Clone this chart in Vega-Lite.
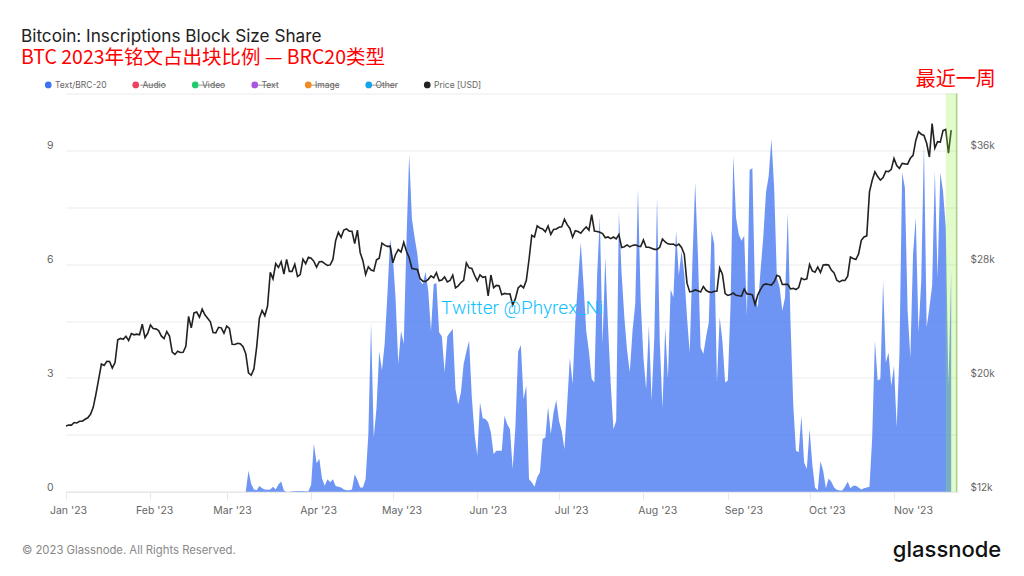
{
  "$schema": "https://vega.github.io/schema/vega-lite/v6.json",
  "autosize": "none",
  "background": "white",
  "padding": {"left": 66, "top": 93.5, "right": 66, "bottom": 84.3},
  "width": 892,
  "height": 398.2,
  "title": {
    "text": "Bitcoin: Inscriptions Block Size Share",
    "subtitle": "BTC 2023年铭文占出块比例 — BRC20类型",
    "anchor": "start",
    "frame": "group",
    "dx": -45,
    "offset": 3,
    "font": "Inter",
    "fontSize": 17.2,
    "fontWeight": "normal",
    "color": "#222222",
    "subtitleFont": "Noto Sans CJK SC",
    "subtitleFontSize": 19.5,
    "subtitleColor": "#ff0000",
    "subtitlePadding": 4
  },
  "config": {
    "view": {"stroke": null},
    "axis": {"labelFont": "Inter", "labelFontSize": 10.5, "labelColor": "#666666", "title": null}
  },
  "data": {"values": [
    {"date":"2023-01-01","price":16625,"share":0},{"date":"2023-01-02","price":16688,"share":0},{"date":"2023-01-03","price":16680,"share":0},{"date":"2023-01-04","price":16863,"share":0},{"date":"2023-01-05","price":16836,"share":0},{"date":"2023-01-06","price":16951,"share":0},{"date":"2023-01-07","price":16955,"share":0},{"date":"2023-01-08","price":17091,"share":0},{"date":"2023-01-09","price":17196,"share":0},{"date":"2023-01-10","price":17446,"share":0},{"date":"2023-01-11","price":17934,"share":0},{"date":"2023-01-12","price":18869,"share":0},{"date":"2023-01-13","price":19909,"share":0},{"date":"2023-01-14","price":20976,"share":0},{"date":"2023-01-15","price":20880,"share":0},{"date":"2023-01-16","price":21169,"share":0},{"date":"2023-01-17","price":21161,"share":0},{"date":"2023-01-18","price":20688,"share":0},{"date":"2023-01-19","price":21086,"share":0},{"date":"2023-01-20","price":22676,"share":0},{"date":"2023-01-21","price":22777,"share":0},{"date":"2023-01-22","price":22720,"share":0},{"date":"2023-01-23","price":22934,"share":0},{"date":"2023-01-24","price":22636,"share":0},{"date":"2023-01-25","price":23117,"share":0},{"date":"2023-01-26","price":23032,"share":0},{"date":"2023-01-27","price":23078,"share":0},{"date":"2023-01-28","price":23031,"share":0},{"date":"2023-01-29","price":23774,"share":0},{"date":"2023-01-30","price":22840,"share":0},{"date":"2023-01-31","price":23139,"share":0},
    {"date":"2023-02-01","price":23723,"share":0},{"date":"2023-02-02","price":23471,"share":0},{"date":"2023-02-03","price":23449,"share":0},{"date":"2023-02-04","price":23331,"share":0},{"date":"2023-02-05","price":22955,"share":0},{"date":"2023-02-06","price":22761,"share":0},{"date":"2023-02-07","price":23264,"share":0},{"date":"2023-02-08","price":22939,"share":0},{"date":"2023-02-09","price":21819,"share":0},{"date":"2023-02-10","price":21651,"share":0},{"date":"2023-02-11","price":21870,"share":0},{"date":"2023-02-12","price":21788,"share":0},{"date":"2023-02-13","price":21808,"share":0},{"date":"2023-02-14","price":22220,"share":0},{"date":"2023-02-15","price":24327,"share":0},{"date":"2023-02-16","price":23517,"share":0},{"date":"2023-02-17","price":24569,"share":0},{"date":"2023-02-18","price":24631,"share":0},{"date":"2023-02-19","price":24271,"share":0},{"date":"2023-02-20","price":24838,"share":0},{"date":"2023-02-21","price":24439,"share":0},{"date":"2023-02-22","price":24189,"share":0},{"date":"2023-02-23","price":23947,"share":0},{"date":"2023-02-24","price":23198,"share":0},{"date":"2023-02-25","price":23175,"share":0},{"date":"2023-02-26","price":23561,"share":0},{"date":"2023-02-27","price":23522,"share":0},{"date":"2023-02-28","price":23147,"share":0},
    {"date":"2023-03-01","price":23647,"share":0},{"date":"2023-03-02","price":23475,"share":0},{"date":"2023-03-03","price":22362,"share":0},{"date":"2023-03-04","price":22354,"share":0},{"date":"2023-03-05","price":22430,"share":0},{"date":"2023-03-06","price":22410,"share":0},{"date":"2023-03-07","price":22197,"share":0},{"date":"2023-03-08","price":21705,"share":0},{"date":"2023-03-09","price":20363,"share":0.55},{"date":"2023-03-10","price":20187,"share":0.2},{"date":"2023-03-11","price":20632,"share":0.06},{"date":"2023-03-12","price":22163,"share":0.04},{"date":"2023-03-13","price":24197,"share":0.15},{"date":"2023-03-14","price":24746,"share":0.09},{"date":"2023-03-15","price":24375,"share":0.06},{"date":"2023-03-16","price":25052,"share":0.05},{"date":"2023-03-17","price":27423,"share":0.06},{"date":"2023-03-18","price":26965,"share":0.13},{"date":"2023-03-19","price":28038,"share":0.06},{"date":"2023-03-20","price":27767,"share":0.19},{"date":"2023-03-21","price":28175,"share":0.27},{"date":"2023-03-22","price":27307,"share":0.03},{"date":"2023-03-23","price":28333,"share":0},{"date":"2023-03-24","price":27493,"share":0},{"date":"2023-03-25","price":27494,"share":0.01},{"date":"2023-03-26","price":27994,"share":0.01},{"date":"2023-03-27","price":27139,"share":0.02},{"date":"2023-03-28","price":27268,"share":0.02},{"date":"2023-03-29","price":28348,"share":0.02},{"date":"2023-03-30","price":28033,"share":0.01},{"date":"2023-03-31","price":28478,"share":0.01},
    {"date":"2023-04-01","price":28411,"share":0.18},{"date":"2023-04-02","price":28199,"share":1.27},{"date":"2023-04-03","price":27790,"share":0.75},{"date":"2023-04-04","price":28170,"share":0.87},{"date":"2023-04-05","price":28175,"share":0.35},{"date":"2023-04-06","price":28033,"share":0.16},{"date":"2023-04-07","price":27906,"share":0.33},{"date":"2023-04-08","price":27947,"share":0.25},{"date":"2023-04-09","price":28333,"share":0.33},{"date":"2023-04-10","price":29652,"share":0.15},{"date":"2023-04-11","price":30235,"share":0.13},{"date":"2023-04-12","price":29884,"share":0.11},{"date":"2023-04-13","price":30399,"share":0.06},{"date":"2023-04-14","price":30485,"share":0.04},{"date":"2023-04-15","price":30318,"share":0.04},{"date":"2023-04-16","price":30315,"share":0.06},{"date":"2023-04-17","price":29445,"share":0.46},{"date":"2023-04-18","price":30397,"share":0.31},{"date":"2023-04-19","price":28823,"share":0.11},{"date":"2023-04-20","price":28245,"share":0.11},{"date":"2023-04-21","price":27276,"share":0.33},{"date":"2023-04-22","price":27817,"share":1.5},{"date":"2023-04-23","price":27591,"share":4.44},{"date":"2023-04-24","price":27525,"share":1.43},{"date":"2023-04-25","price":28307,"share":2.2},{"date":"2023-04-26","price":28422,"share":3.7},{"date":"2023-04-27","price":29473,"share":3.2},{"date":"2023-04-28","price":29340,"share":3.9},{"date":"2023-04-29","price":29248,"share":5.2},{"date":"2023-04-30","price":29268,"share":6.66},
    {"date":"2023-05-01","price":28091,"share":6.2},{"date":"2023-05-02","price":28680,"share":5.1},{"date":"2023-05-03","price":29027,"share":3.37},{"date":"2023-05-04","price":28848,"share":4.24},{"date":"2023-05-05","price":29534,"share":3.9},{"date":"2023-05-06","price":28905,"share":6.6},{"date":"2023-05-07","price":28454,"share":8.9},{"date":"2023-05-08","price":27694,"share":7.2},{"date":"2023-05-09","price":27658,"share":6.7},{"date":"2023-05-10","price":27621,"share":6.27},{"date":"2023-05-11","price":26987,"share":5.56},{"date":"2023-05-12","price":26807,"share":5.47},{"date":"2023-05-13","price":26788,"share":5.8},{"date":"2023-05-14","price":26931,"share":5.3},{"date":"2023-05-15","price":27172,"share":4.24},{"date":"2023-05-16","price":27036,"share":5.47},{"date":"2023-05-17","price":27398,"share":5.5},{"date":"2023-05-18","price":26832,"share":4.2},{"date":"2023-05-19","price":26890,"share":4.1},{"date":"2023-05-20","price":27102,"share":3.15},{"date":"2023-05-21","price":26747,"share":4.1},{"date":"2023-05-22","price":26851,"share":4.2},{"date":"2023-05-23","price":27225,"share":4.29},{"date":"2023-05-24","price":26334,"share":2.7},{"date":"2023-05-25","price":26473,"share":2.3},{"date":"2023-05-26","price":26705,"share":2.62},{"date":"2023-05-27","price":26868,"share":3.37},{"date":"2023-05-28","price":28085,"share":3.7},{"date":"2023-05-29","price":27745,"share":3.98},{"date":"2023-05-30","price":27702,"share":2.49},{"date":"2023-05-31","price":27219,"share":1.52},
    {"date":"2023-06-01","price":26819,"share":0.95},{"date":"2023-06-02","price":27249,"share":2.35},{"date":"2023-06-03","price":27075,"share":1.94},{"date":"2023-06-04","price":27119,"share":1.92},{"date":"2023-06-05","price":25760,"share":1.83},{"date":"2023-06-06","price":27238,"share":1.56},{"date":"2023-06-07","price":26345,"share":0.99},{"date":"2023-06-08","price":26508,"share":1.08},{"date":"2023-06-09","price":26480,"share":1.08},{"date":"2023-06-10","price":25851,"share":1.08},{"date":"2023-06-11","price":25940,"share":2.0},{"date":"2023-06-12","price":25902,"share":1.78},{"date":"2023-06-13","price":25918,"share":1.65},{"date":"2023-06-14","price":25124,"share":0.6},{"date":"2023-06-15","price":25576,"share":1.7},{"date":"2023-06-16","price":26327,"share":3.7},{"date":"2023-06-17","price":26510,"share":3.87},{"date":"2023-06-18","price":26340,"share":2.44},{"date":"2023-06-19","price":26851,"share":2.8},{"date":"2023-06-20","price":28327,"share":0.33},{"date":"2023-06-21","price":30027,"share":0.25},{"date":"2023-06-22","price":29912,"share":0.13},{"date":"2023-06-23","price":30695,"share":0.38},{"date":"2023-06-24","price":30548,"share":0.51},{"date":"2023-06-25","price":30480,"share":1.39},{"date":"2023-06-26","price":30271,"share":1.43},{"date":"2023-06-27","price":30688,"share":2.24},{"date":"2023-06-28","price":30086,"share":1.52},{"date":"2023-06-29","price":30445,"share":2.09},{"date":"2023-06-30","price":30477,"share":2.42},
    {"date":"2023-07-01","price":30590,"share":1.87},{"date":"2023-07-02","price":30620,"share":1.6},{"date":"2023-07-03","price":31156,"share":1.12},{"date":"2023-07-04","price":30777,"share":2.3},{"date":"2023-07-05","price":30514,"share":3.54},{"date":"2023-07-06","price":29895,"share":2.84},{"date":"2023-07-07","price":30347,"share":4.5},{"date":"2023-07-08","price":30292,"share":5.56},{"date":"2023-07-09","price":30171,"share":6.57},{"date":"2023-07-10","price":30414,"share":5.47},{"date":"2023-07-11","price":30620,"share":4.24},{"date":"2023-07-12","price":30392,"share":3.7},{"date":"2023-07-13","price":31476,"share":2.97},{"date":"2023-07-14","price":30334,"share":2.88},{"date":"2023-07-15","price":30295,"share":5.7},{"date":"2023-07-16","price":30249,"share":7.23},{"date":"2023-07-17","price":30145,"share":3.9},{"date":"2023-07-18","price":29856,"share":6.18},{"date":"2023-07-19","price":29913,"share":4.38},{"date":"2023-07-20","price":29793,"share":2.84},{"date":"2023-07-21","price":29908,"share":1.65},{"date":"2023-07-22","price":29771,"share":1.87},{"date":"2023-07-23","price":30082,"share":7.36},{"date":"2023-07-24","price":29176,"share":5.74},{"date":"2023-07-25","price":29228,"share":4.6},{"date":"2023-07-26","price":29354,"share":3.72},{"date":"2023-07-27","price":29213,"share":3.15},{"date":"2023-07-28","price":29319,"share":4.24},{"date":"2023-07-29","price":29357,"share":4.95},{"date":"2023-07-30","price":29275,"share":7.98},{"date":"2023-07-31","price":29230,"share":5.03},
    {"date":"2023-08-01","price":29705,"share":3.54},{"date":"2023-08-02","price":29186,"share":2.7},{"date":"2023-08-03","price":29193,"share":4.38},{"date":"2023-08-04","price":29113,"share":2.4},{"date":"2023-08-05","price":29042,"share":4.07},{"date":"2023-08-06","price":29041,"share":7.76},{"date":"2023-08-07","price":29183,"share":3.98},{"date":"2023-08-08","price":29766,"share":2.2},{"date":"2023-08-09","price":29561,"share":4.33},{"date":"2023-08-10","price":29429,"share":2.97},{"date":"2023-08-11","price":29397,"share":5.34},{"date":"2023-08-12","price":29415,"share":5.12},{"date":"2023-08-13","price":29283,"share":6.88},{"date":"2023-08-14","price":29408,"share":5.7},{"date":"2023-08-15","price":29170,"share":6.35},{"date":"2023-08-16","price":28701,"share":5.74},{"date":"2023-08-17","price":26664,"share":4.6},{"date":"2023-08-18","price":26049,"share":3.67},{"date":"2023-08-19","price":26096,"share":6.09},{"date":"2023-08-20","price":26189,"share":8.15},{"date":"2023-08-21","price":26124,"share":6.27},{"date":"2023-08-22","price":26040,"share":3.8},{"date":"2023-08-23","price":26431,"share":3.63},{"date":"2023-08-24","price":26163,"share":4.07},{"date":"2023-08-25","price":26049,"share":4.46},{"date":"2023-08-26","price":26008,"share":6.88},{"date":"2023-08-27","price":26089,"share":6.53},{"date":"2023-08-28","price":26106,"share":2.88},{"date":"2023-08-29","price":27727,"share":4.6},{"date":"2023-08-30","price":27297,"share":3.98},{"date":"2023-08-31","price":25931,"share":2.88},
    {"date":"2023-09-01","price":25800,"share":2.93},{"date":"2023-09-02","price":25869,"share":4.95},{"date":"2023-09-03","price":25969,"share":8.86},{"date":"2023-09-04","price":25813,"share":7.23},{"date":"2023-09-05","price":25779,"share":6.79},{"date":"2023-09-06","price":25753,"share":6.62},{"date":"2023-09-07","price":26240,"share":6.75},{"date":"2023-09-08","price":25905,"share":4.64},{"date":"2023-09-09","price":25895,"share":8.48},{"date":"2023-09-10","price":25832,"share":8.53},{"date":"2023-09-11","price":25162,"share":5.12},{"date":"2023-09-12","price":25840,"share":4.86},{"date":"2023-09-13","price":26228,"share":5.83},{"date":"2023-09-14","price":26539,"share":6.7},{"date":"2023-09-15","price":26608,"share":7.89},{"date":"2023-09-16","price":26568,"share":8.33},{"date":"2023-09-17","price":26527,"share":9.3},{"date":"2023-09-18","price":26760,"share":8.02},{"date":"2023-09-19","price":27211,"share":5.65},{"date":"2023-09-20","price":27132,"share":5.39},{"date":"2023-09-21","price":26567,"share":4.77},{"date":"2023-09-22","price":26579,"share":5.12},{"date":"2023-09-23","price":26579,"share":7.36},{"date":"2023-09-24","price":26256,"share":4.5},{"date":"2023-09-25","price":26298,"share":2.31},{"date":"2023-09-26","price":26217,"share":1.08},{"date":"2023-09-27","price":26352,"share":1.04},{"date":"2023-09-28","price":27021,"share":2.0},{"date":"2023-09-29","price":26911,"share":0.77},{"date":"2023-09-30","price":26967,"share":0.6},
    {"date":"2023-10-01","price":27983,"share":1.65},{"date":"2023-10-02","price":27530,"share":0.73},{"date":"2023-10-03","price":27429,"share":0.11},{"date":"2023-10-04","price":27799,"share":0.04},{"date":"2023-10-05","price":27415,"share":0.8},{"date":"2023-10-06","price":27946,"share":0.55},{"date":"2023-10-07","price":27968,"share":0.09},{"date":"2023-10-08","price":27936,"share":0.35},{"date":"2023-10-09","price":27584,"share":0.26},{"date":"2023-10-10","price":27391,"share":0.11},{"date":"2023-10-11","price":26873,"share":0.05},{"date":"2023-10-12","price":26756,"share":0.03},{"date":"2023-10-13","price":26862,"share":0.03},{"date":"2023-10-14","price":26853,"share":0.13},{"date":"2023-10-15","price":27154,"share":0.26},{"date":"2023-10-16","price":28500,"share":0.09},{"date":"2023-10-17","price":28396,"share":0.16},{"date":"2023-10-18","price":28328,"share":0.16},{"date":"2023-10-19","price":28719,"share":0.11},{"date":"2023-10-20","price":29682,"share":0.06},{"date":"2023-10-21","price":29918,"share":0.09},{"date":"2023-10-22","price":29992,"share":0.11},{"date":"2023-10-23","price":33086,"share":0.13},{"date":"2023-10-24","price":33901,"share":1.43},{"date":"2023-10-25","price":34502,"share":3.98},{"date":"2023-10-26","price":34156,"share":2.93},{"date":"2023-10-27","price":33909,"share":2.97},{"date":"2023-10-28","price":34089,"share":5.56},{"date":"2023-10-29","price":34538,"share":3.41},{"date":"2023-10-30","price":34502,"share":3.67},{"date":"2023-10-31","price":34667,"share":2.79},
    {"date":"2023-11-01","price":35437,"share":3.32},{"date":"2023-11-02","price":34938,"share":1.7},{"date":"2023-11-03","price":34732,"share":3.63},{"date":"2023-11-04","price":35082,"share":8.42},{"date":"2023-11-05","price":35049,"share":8.02},{"date":"2023-11-06","price":35037,"share":4.77},{"date":"2023-11-07","price":35443,"share":3.54},{"date":"2023-11-08","price":35655,"share":6.27},{"date":"2023-11-09","price":36693,"share":7.23},{"date":"2023-11-10","price":37313,"share":4.2},{"date":"2023-11-11","price":37138,"share":5.56},{"date":"2023-11-12","price":37054,"share":9.17},{"date":"2023-11-13","price":36502,"share":4.33},{"date":"2023-11-14","price":35537,"share":4.86},{"date":"2023-11-15","price":37880,"share":5.43},{"date":"2023-11-16","price":36163,"share":8.46},{"date":"2023-11-17","price":36613,"share":5.65},{"date":"2023-11-18","price":36585,"share":8.42},{"date":"2023-11-19","price":37386,"share":7.93},{"date":"2023-11-20","price":37477,"share":6.97},{"date":"2023-11-21","price":35813,"share":2.8},{"date":"2023-11-22","price":37420,"share":5.83}
  ]},
  "layer": [
    {
      "mark": {"type": "area", "opacity": 0.75, "interpolate": "linear"},
      "encoding": {
        "x": {
          "field": "date",
          "type": "temporal",
          "scale": {"type": "utc", "domain": ["2023-01-01", "2023-11-24T12:00:00Z"]},
          "axis": {
            "values": ["2023-01-01","2023-02-01","2023-03-01","2023-04-01","2023-05-01","2023-06-01","2023-07-01","2023-08-01","2023-09-01","2023-10-01","2023-11-01"],
            "format": "%b '%y",
            "grid": false,
            "domainColor": "#e4e4e4",
            "tickColor": "#e8e8e8",
            "tickSize": 8,
            "labelPadding": 6,
            "labelFlush": false,
            "labelOffset": {"expr": "2 + 17 * (datum.value - 1672531200000) / 26265600000"}
          }
        },
        "y": {
          "field": "share",
          "type": "quantitative",
          "stack": null,
          "scale": {"domain": [0, 10.5]},
          "axis": {
            "values": [0, 1.5, 3, 4.5, 6, 7.5, 9, 10.5],
            "labelExpr": "datum.value % 3 == 0 && datum.value < 10 ? datum.label : ''",
            "grid": true,
            "gridColor": "#ebebeb",
            "domain": false,
            "ticks": false,
            "labelPadding": 13,
            "labelOffset": -4.5
          }
        },
        "color": {
          "datum": "Text/BRC-20",
          "type": "nominal",
          "scale": {
            "domain": ["Text/BRC-20", "Audio", "Video", "Text", "Image", "Other", "Price [USD]"],
            "range": ["#3d72f0", "#f0405f", "#1fc96e", "#a855e0", "#f08a24", "#14a3e8", "#222222"]
          },
          "legend": {
            "orient": "none",
            "legendX": -22,
            "legendY": -13,
            "direction": "horizontal",
            "columns": 7,
            "title": null,
            "symbolType": "circle",
            "symbolSize": 45,
            "symbolOpacity": 1,
            "symbolStrokeWidth": 0,
            "labelFont": "Inter",
            "labelFontSize": 8.5,
            "labelColor": "#666666",
            "labelOffset": 2.5,
            "columnPadding": 24.5
          }
        }
      }
    },
    {
      "mark": {"type": "line", "strokeWidth": 1.6, "interpolate": "linear"},
      "encoding": {
        "x": {"field": "date", "type": "temporal"},
        "y": {
          "field": "price",
          "type": "quantitative",
          "scale": {"domain": [12000, 40000]},
          "axis": {
            "orient": "right",
            "values": [12000, 20000, 28000, 36000],
            "labelExpr": "'$' + datum.value / 1000 + 'k'",
            "labelFontSize": 10,
            "grid": false,
            "domain": false,
            "ticks": false,
            "labelPadding": 12,
            "labelOffset": -4.5
          }
        },
        "color": {"datum": "Price [USD]", "type": "nominal"}
      }
    },
    {
      "layer": [
        {
          "data": {"values": [{"start": "2023-11-20", "end": "2023-11-24"}]},
          "mark": {"type": "rect", "color": "#93f03e", "opacity": 0.27},
          "encoding": {
            "x": {"field": "start", "type": "temporal"},
            "x2": {"field": "end"}
          }
        },
        {
          "data": {"values": [{"end": "2023-11-24"}]},
          "mark": {"type": "rule", "color": "#a8d08a", "strokeWidth": 1.5},
          "encoding": {"x": {"field": "end", "type": "temporal"}}
        },
        {
          "data": {"values": [
            {"series": "Audio", "from": "2023-01-28T05:00:00Z", "to": "2023-02-06T17:00:00Z"},
            {"series": "Video", "from": "2023-02-18T19:00:00Z", "to": "2023-02-28T10:00:00Z"},
            {"series": "Text", "from": "2023-03-12T12:00:00Z", "to": "2023-03-19T19:00:00Z"},
            {"series": "Image", "from": "2023-04-01T00:00:00Z", "to": "2023-04-10T22:00:00Z"},
            {"series": "Other", "from": "2023-04-23T07:00:00Z", "to": "2023-05-02T12:00:00Z"}
          ]},
          "mark": {"type": "rule", "color": "#999999", "strokeWidth": 1},
          "encoding": {
            "x": {"field": "from", "type": "temporal"},
            "x2": {"field": "to"},
            "y": {"datum": 10.72, "type": "quantitative", "scale": {"domain": [0, 10.5]}, "axis": null}
          }
        },
        {
          "data": {"values": [{"label": "Twitter @Phyrex_Ni"}]},
          "mark": {"type": "text", "align": "left", "baseline": "middle", "font": "Roboto", "fontWeight": 300, "fontSize": 19, "color": "#10bfff"},
          "encoding": {
            "x": {"datum": {"year": 2023, "month": 5, "date": 18, "hours": 17, "utc": true}, "type": "temporal"},
            "y": {"datum": 4.84, "type": "quantitative", "scale": {"domain": [0, 10.5]}, "axis": null},
            "text": {"field": "label"}
          }
        },
        {
          "data": {"values": [{"label": "最近一周"}]},
          "mark": {"type": "text", "align": "left", "baseline": "middle", "font": "Noto Sans CJK SC", "fontSize": 20, "color": "#ff0000"},
          "encoding": {
            "x": {"datum": {"year": 2023, "month": 11, "date": 9, "utc": true}, "type": "temporal"},
            "y": {"datum": 10.85, "type": "quantitative", "scale": {"domain": [0, 10.5]}, "axis": null},
            "text": {"field": "label"}
          }
        },
        {
          "data": {"values": [{"label": "© 2023 Glassnode. All Rights Reserved."}]},
          "mark": {"type": "text", "align": "left", "baseline": "middle", "font": "Inter", "fontSize": 11.3, "color": "#888888"},
          "encoding": {
            "x": {"datum": {"year": 2022, "month": 12, "date": 15, "hours": 20, "utc": true}, "type": "temporal"},
            "y": {"datum": -1.56, "type": "quantitative", "scale": {"domain": [0, 10.5]}, "axis": null},
            "text": {"field": "label"}
          }
        },
        {
          "data": {"values": [{"label": "glassnode"}]},
          "mark": {"type": "text", "align": "left", "baseline": "middle", "font": "Inter", "fontSize": 22, "fontWeight": 500, "color": "#111111"},
          "encoding": {
            "x": {"datum": {"year": 2023, "month": 10, "date": 31, "hours": 14, "utc": true}, "type": "temporal"},
            "y": {"datum": -1.54, "type": "quantitative", "scale": {"domain": [0, 10.5]}, "axis": null},
            "text": {"field": "label"}
          }
        }
      ]
    }
  ],
  "resolve": {"scale": {"y": "independent"}}
}
